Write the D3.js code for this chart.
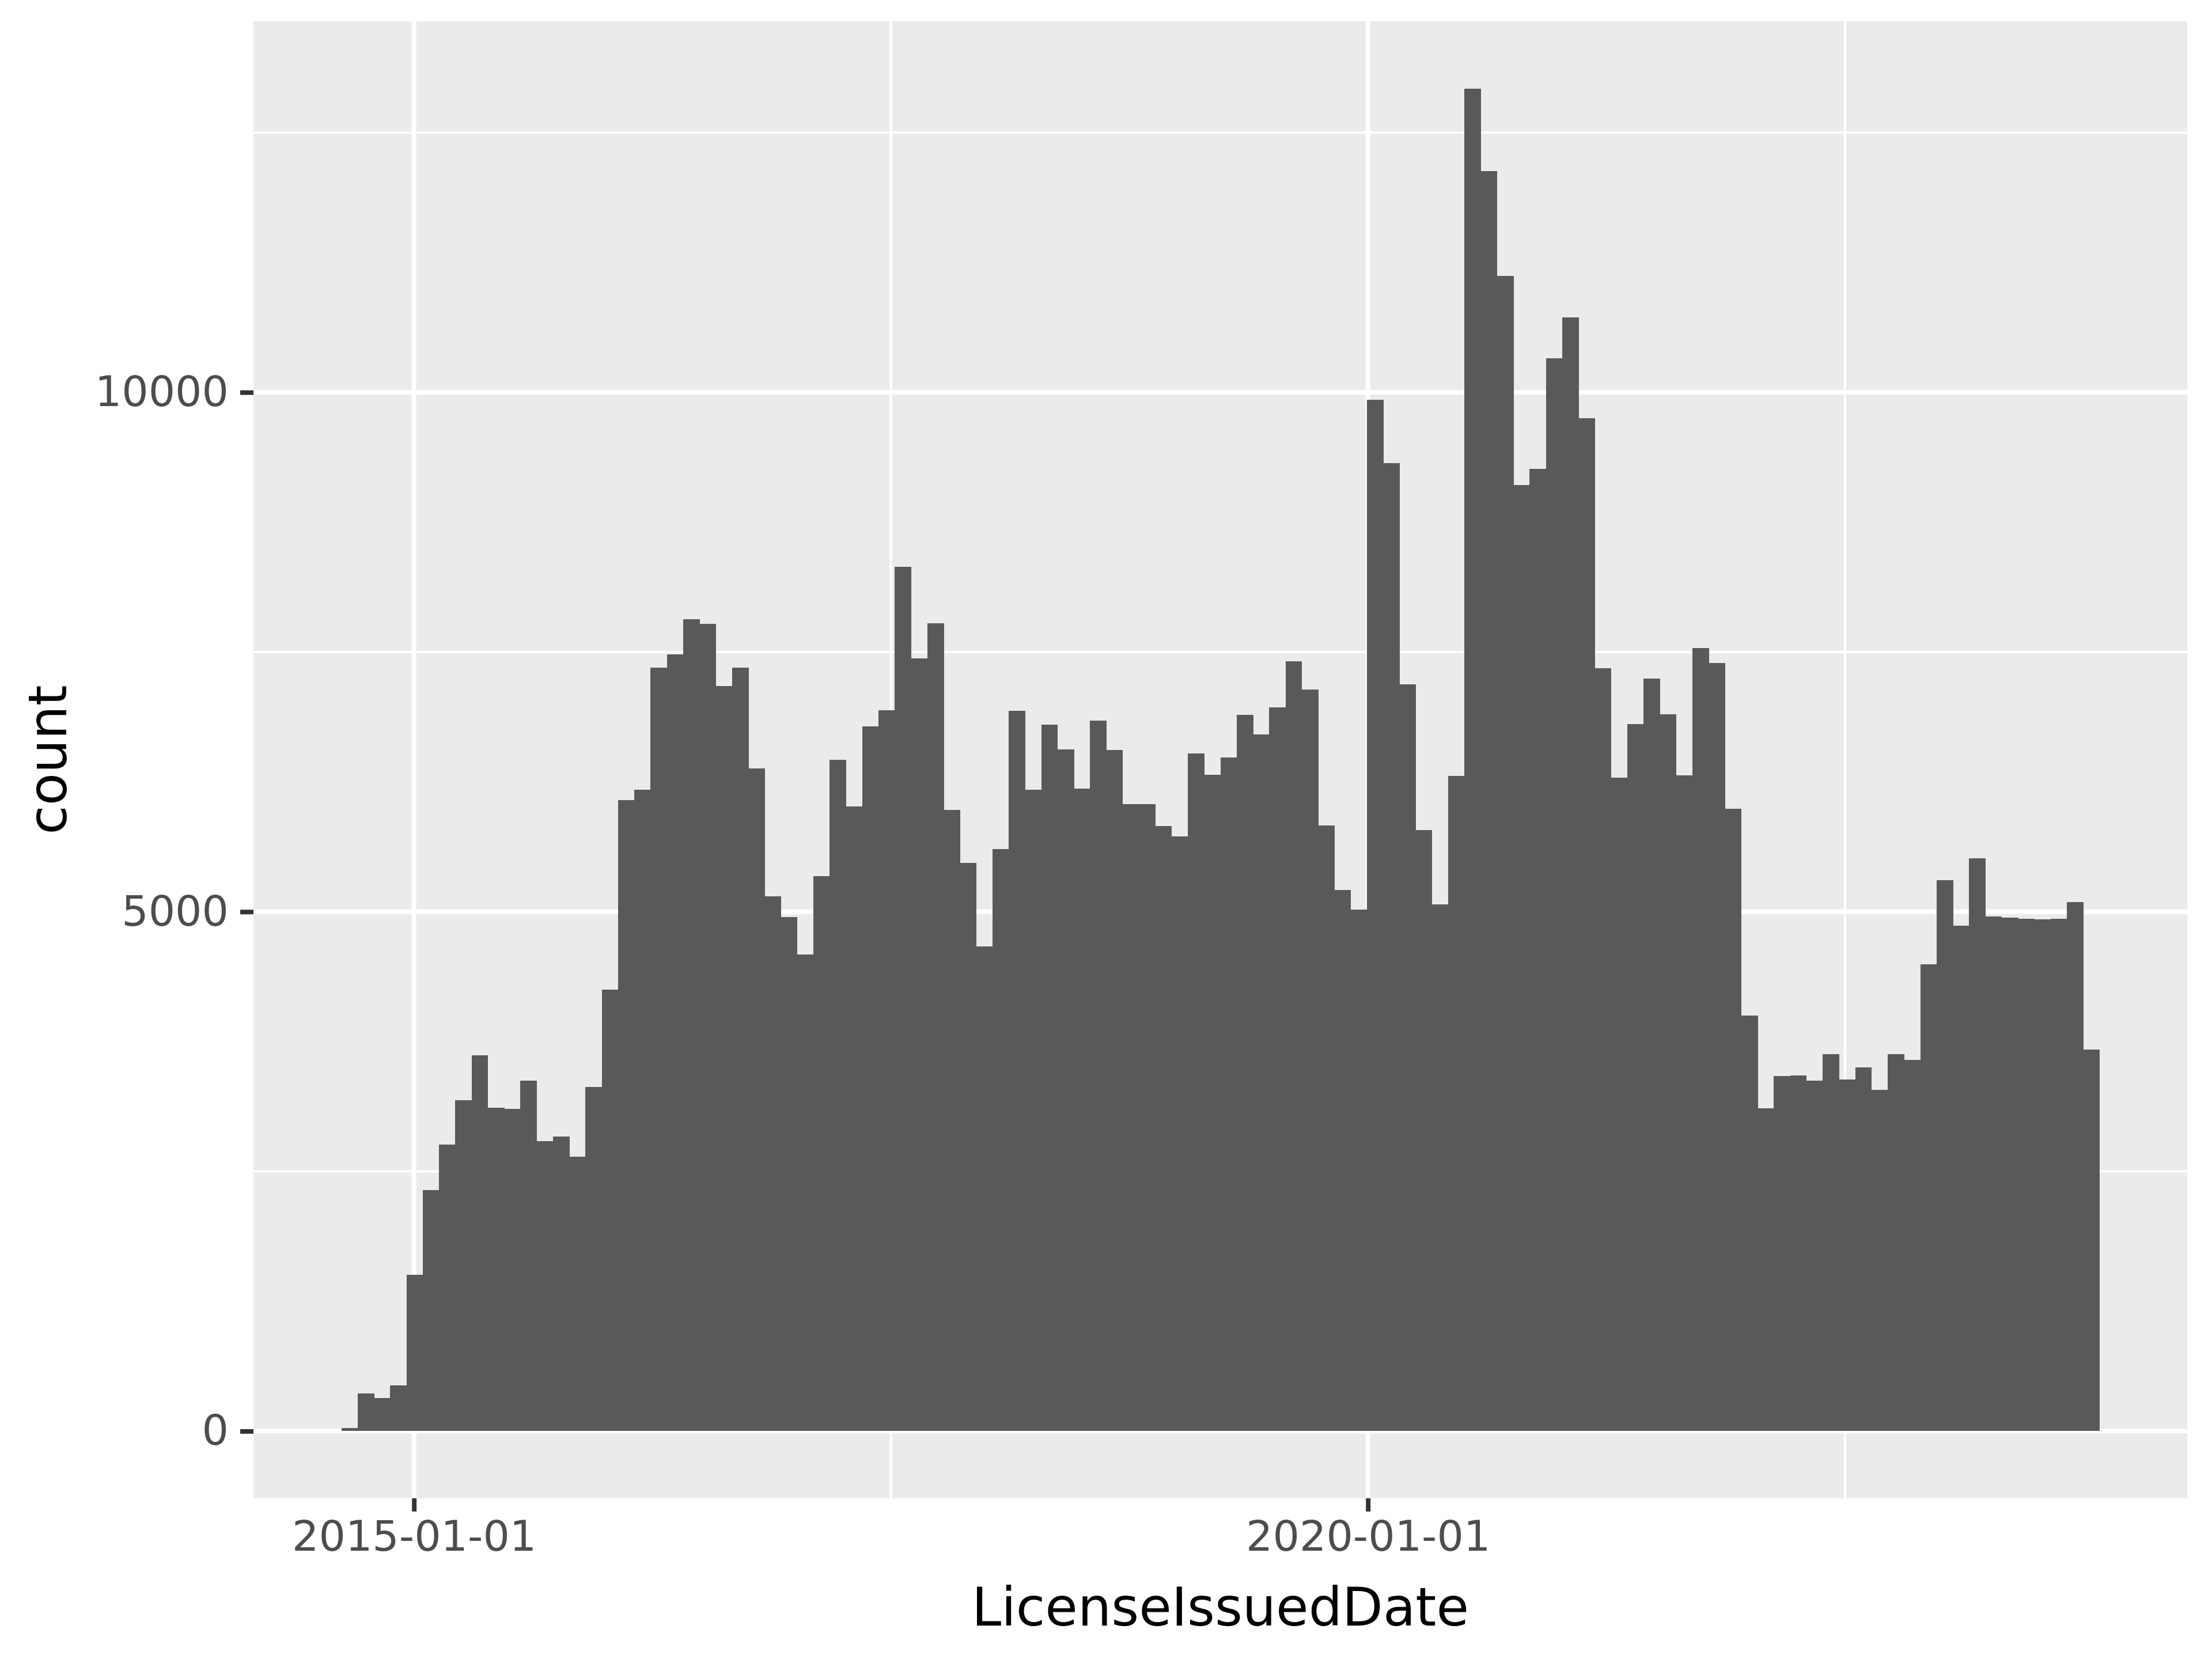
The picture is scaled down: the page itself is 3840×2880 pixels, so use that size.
<!DOCTYPE html>
<html>
<head>
<meta charset="utf-8">
<script src="https://cdn.jsdelivr.net/npm/d3@7"></script>
<style>
  html, body { margin: 0; padding: 0; background: #ffffff; }
  svg { display: block; }
</style>
</head>
<body>
<svg id="chart"></svg>
<script>
// Histogram counts, one per bin
const counts = [
  30, 364, 320, 438, 1508, 2323, 2756, 3183, 3616, 3113,
  3100, 3374, 2791, 2836, 2642, 3314, 4250, 6076, 6174, 7349,
  7478, 7816, 7773, 7174, 7349, 6380, 5147, 4948, 4590, 5341,
  6462, 6014, 6785, 6941, 8322, 7439, 7777, 5979, 5469, 4664,
  5603, 6933, 6175, 6800, 6563, 6186, 6840, 6557, 6036, 6036,
  5824, 5725, 6523, 6319, 6486, 6897, 6707, 6967, 7412, 7140,
  5829, 5210, 5023, 9930, 9319, 7191, 5787, 5068, 6308, 12925,
  12127, 11120, 9110, 9263, 10327, 10723, 9750, 7344, 6291, 6806,
  7242, 6902, 6314, 7536, 7395, 5991, 4002, 3107, 3420, 3425,
  3374, 3629, 3385, 3501, 3284, 3629, 3573, 4494, 5303, 4865,
  5515, 4955, 4942, 4934, 4926, 4931, 5093, 3674
];

// Range covered by the bins
const firstEdge = "2014-08-15";
const lastEdge = "2023-11-01";

// Axis breaks
const xMajorBreaks = ["2015-01-01", "2020-01-01"];
const xMinorBreaks = ["2017-07-02", "2022-07-02"];
const yMajorBreaks = [0, 5000, 10000];
const yMinorBreaks = [2500, 7500, 12500];

const xTitle = "LicenseIssuedDate";
const yTitle = "count";

const W = 3840, H = 2880;
const panel = { left: 440, right: 3797, top: 37, bottom: 2601 };
const font = "'DejaVu Sans', sans-serif";

const parse = d3.utcParse("%Y-%m-%d");
const t0 = parse(firstEdge), t1 = parse(lastEdge);

// bin edges spread evenly over the range
const edgeAt = d3.scaleLinear().domain([0, counts.length]).range([+t0, +t1]);
const bins = counts.map((c, i) => ({ x0: edgeAt(i), x1: edgeAt(i + 1), count: c }));

// ggplot style 5% expansion on both scales
const span = +t1 - +t0;
const x = d3.scaleUtc()
  .domain([new Date(+t0 - 0.05 * span), new Date(+t1 + 0.05 * span)])
  .range([panel.left, panel.right]);

const yMax = d3.max(counts);
const y = d3.scaleLinear()
  .domain([-0.05 * yMax, 1.05 * yMax])
  .range([panel.bottom, panel.top]);

const svg = d3.select("#chart").attr("width", W).attr("height", H);

svg.append("rect").attr("width", W).attr("height", H).attr("fill", "#ffffff");

svg.append("rect")
  .attr("x", panel.left).attr("y", panel.top)
  .attr("width", panel.right - panel.left)
  .attr("height", panel.bottom - panel.top)
  .attr("fill", "#EBEBEB");

const grid = svg.append("g").attr("stroke", "#ffffff");

// minor grid
grid.selectAll(".ymin").data(yMinorBreaks).join("line")
  .attr("x1", panel.left).attr("x2", panel.right)
  .attr("y1", d => y(d)).attr("y2", d => y(d))
  .attr("stroke-width", 4);
grid.selectAll(".xmin").data(xMinorBreaks).join("line")
  .attr("y1", panel.top).attr("y2", panel.bottom)
  .attr("x1", d => x(parse(d))).attr("x2", d => x(parse(d)))
  .attr("stroke-width", 4);

// major grid
grid.selectAll(".ymaj").data(yMajorBreaks).join("line")
  .attr("x1", panel.left).attr("x2", panel.right)
  .attr("y1", d => y(d)).attr("y2", d => y(d))
  .attr("stroke-width", 8);
grid.selectAll(".xmaj").data(xMajorBreaks).join("line")
  .attr("y1", panel.top).attr("y2", panel.bottom)
  .attr("x1", d => x(parse(d))).attr("x2", d => x(parse(d)))
  .attr("stroke-width", 8);

// bars
svg.append("g")
  .attr("fill", "#595959")
  .attr("shape-rendering", "crispEdges")
  .selectAll("rect").data(bins).join("rect")
  .attr("x", d => x(d.x0))
  .attr("width", d => x(d.x1) - x(d.x0) + 0.5)
  .attr("y", d => y(d.count))
  .attr("height", d => y(0) - y(d.count));

// x axis
const xAxis = d3.axisBottom(x)
  .tickValues(xMajorBreaks.map(parse))
  .tickFormat(d3.utcFormat("%Y-%m-%d"))
  .tickSize(23)
  .tickPadding(16);

const gx = svg.append("g")
  .attr("transform", `translate(0,${panel.bottom})`)
  .call(xAxis);
gx.select(".domain").remove();
gx.selectAll(".tick line").attr("stroke", "#333333").attr("stroke-width", 8);
gx.selectAll(".tick text")
  .attr("fill", "#4D4D4D")
  .attr("font-family", font)
  .attr("font-size", 73);

// y axis
const yAxis = d3.axisLeft(y)
  .tickValues(yMajorBreaks)
  .tickFormat(d3.format("d"))
  .tickSize(23)
  .tickPadding(20);

const gy = svg.append("g")
  .attr("transform", `translate(${panel.left},0)`)
  .call(yAxis);
gy.select(".domain").remove();
gy.selectAll(".tick line").attr("stroke", "#333333").attr("stroke-width", 8);
gy.selectAll(".tick text")
  .attr("fill", "#4D4D4D")
  .attr("font-family", font)
  .attr("font-size", 73);

// axis titles
svg.append("text")
  .attr("x", (panel.left + panel.right) / 2)
  .attr("y", 2822)
  .attr("text-anchor", "middle")
  .attr("font-family", font)
  .attr("font-size", 92)
  .attr("fill", "#000000")
  .text(xTitle);

svg.append("text")
  .attr("transform", `translate(115,${(panel.top + panel.bottom) / 2}) rotate(-90)`)
  .attr("text-anchor", "middle")
  .attr("font-family", font)
  .attr("font-size", 92)
  .attr("fill", "#000000")
  .text(yTitle);
</script>
</body>
</html>
